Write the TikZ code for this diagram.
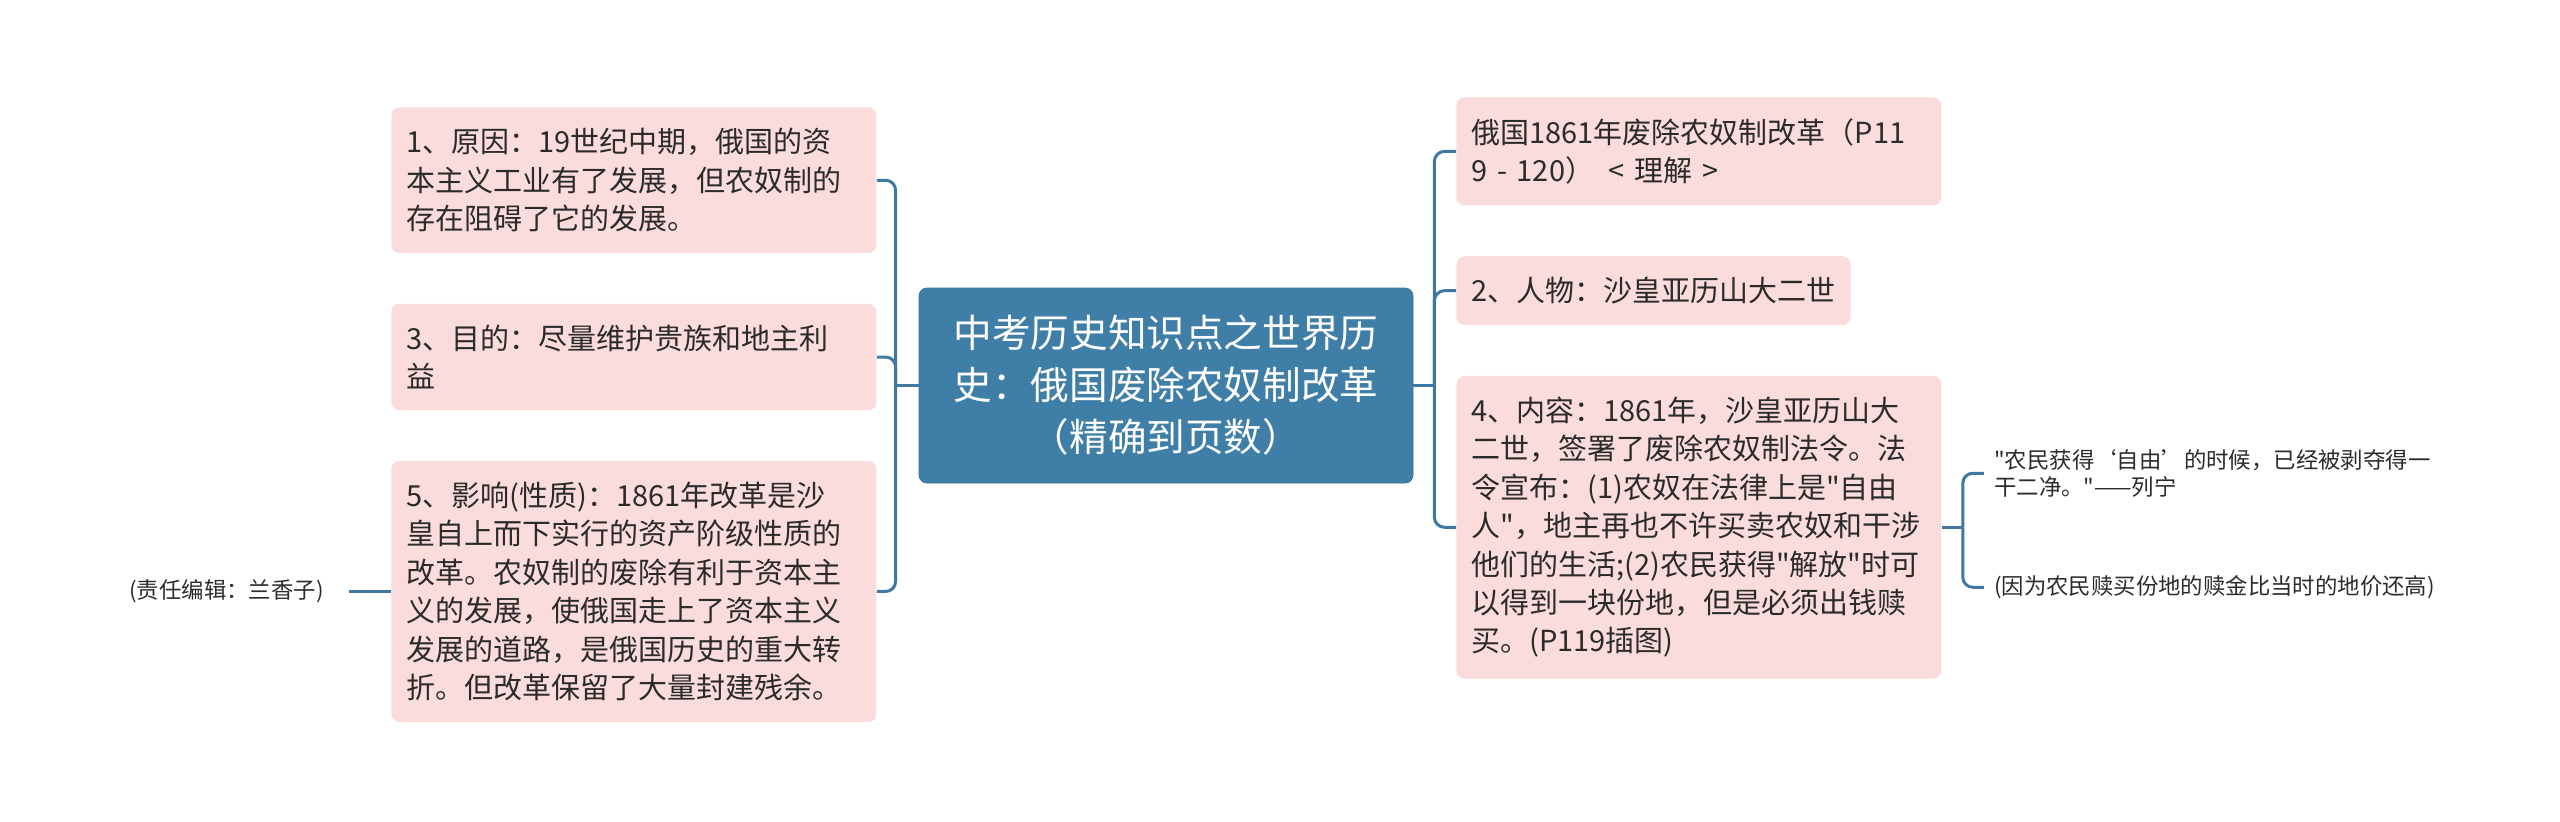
\documentclass[tikz,border=0pt]{standalone}
\usepackage{fontspec}
\setmainfont{Noto Sans CJK SC}[Ligatures=TeXOff]
\usepackage{xcolor}
\usetikzlibrary{positioning}
\definecolor{mmroot}{HTML}{3F7EA7}
\definecolor{mmrootedge}{HTML}{3A749B}
\definecolor{mmleaf}{HTML}{FBDCDC}
\definecolor{mmline}{HTML}{3F78A0}
\definecolor{mmink}{HTML}{2B2B2B}

\begin{document}
\begin{tikzpicture}[
  x=0.5pt, y=-0.5pt,
  node distance=25pt,
  topic/.style={draw=mmrootedge, fill=mmroot, rounded corners=4pt, text=white, align=center, text width=227pt, inner xsep=10pt, minimum height=97.5pt, font=\fontsize{19.3}{26}\selectfont},
  leaf/.style={fill=mmleaf, rounded corners=4pt, text=mmink, align=left, inner xsep=7.5pt, inner ysep=10.5pt, font=\fontsize{14.5}{19.2}\selectfont},
  wide/.style={text width=227.5pt},
  note/.style={text=mmink, align=left, inner xsep=5pt, inner ysep=2pt, font=\fontsize{11.2}{13.5}\selectfont},
  link/.style={draw=mmline, line width=1.5pt, rounded corners=5pt}
]
  \useasboundingbox (0,0) rectangle (2560,821);

  \node[topic] (root) at (1166,385.5) {中考历史知识点之世界历\\史：俄国废除农奴制改革\\（精确到页数）};

  \node[leaf, wide, anchor=north west] (cause) at (391,107) {1、原因：19世纪中期，俄国的资\\本主义工业有了发展，但农奴制的\\存在阻碍了它的发展。};
  \node[leaf, wide, below=of cause] (aim) {3、目的：尽量维护贵族和地主利\\益};
  \node[leaf, wide, below=of aim] (effect) {5、影响(性质)：1861年改革是沙\\皇自上而下实行的资产阶级性质的\\改革。农奴制的废除有利于资本主\\义的发展，使俄国走上了资本主义\\发展的道路，是俄国历史的重大转\\折。但改革保留了大量封建残余。};
  \node[note, left=21pt of effect, inner xsep=12.5pt] (editor) {(责任编辑：兰香子)};

  \node[leaf, wide, anchor=north west] (title) at (1456,97) {俄国1861年废除农奴制改革（P11\\9 - 120）\enspace< 理解 >};
  \node[leaf, below=of title.south west, anchor=north west] (person) {2、人物：沙皇亚历山大二世};
  \node[leaf, wide, below=of person.south west, anchor=north west] (content) {4、内容：1861年，沙皇亚历山大\\二世，签署了废除农奴制法令。法\\令宣布：(1)农奴在法律上是"自由\\人"，地主再也不许买卖农奴和干涉\\他们的生活;(2)农民获得"解放"时可\\以得到一块份地，但是必须出钱赎\\买。(P119插图)};
  \node[note, anchor=west] (quote) at ([xshift=21pt, yshift=27pt]content.east) {"农民获得‘自由’的时候，已经被剥夺得一\\干二净。"——列宁};
  \node[note, anchor=west] (price) at ([xshift=21pt, yshift=-30pt]content.east) {(因为农民赎买份地的赎金比当时的地价还高)};

  \coordinate[left=11.5pt of root.west] (lfork);
  \coordinate[right=10.5pt of root.east] (rfork);
  \coordinate[right=10.5pt of content.east] (nfork);

  \draw[link] (root.west) -- (lfork);
  \draw[link] (lfork) |- (cause.east);
  \draw[link] (lfork) |- (aim.east);
  \draw[link] (lfork) |- (effect.east);
  \draw[link] (editor.east) -- (effect.west);

  \draw[link] (root.east) -- (rfork);
  \draw[link] (rfork) |- (title.west);
  \draw[link] (rfork) |- (person.west);
  \draw[link] (rfork) |- (content.west);

  \draw[link] (content.east) -- (nfork);
  \draw[link] (nfork) |- (quote.west);
  \draw[link] (nfork) |- (price.west);
\end{tikzpicture}
\end{document}
